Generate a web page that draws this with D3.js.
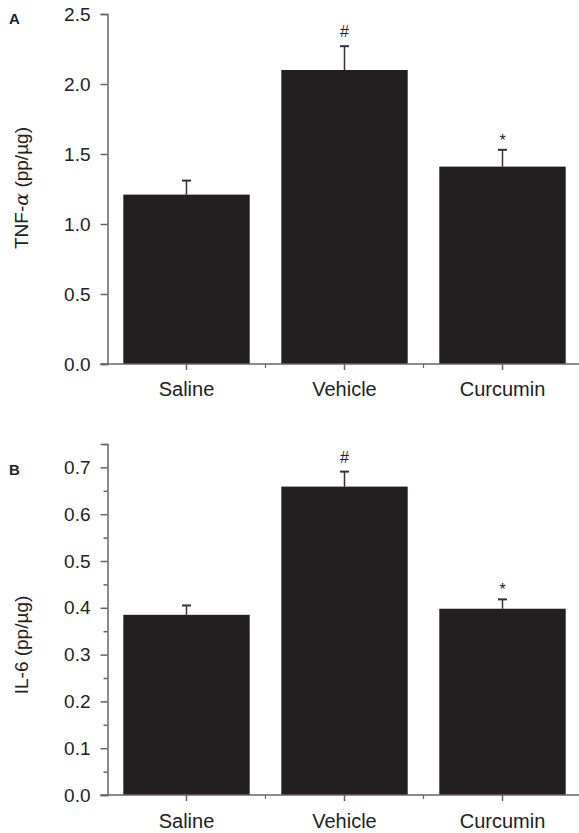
<!DOCTYPE html>
<html>
<head>
<meta charset="utf-8">
<script src="https://cdn.jsdelivr.net/npm/d3@7"></script>
<style>
  body { margin: 0; background: #fff; }
  svg text { font-family: "Liberation Sans", Arial, sans-serif; fill: #222; }
</style>
</head>
<body>
<div id="chart"></div>
<script>
// Data
const groups = ["Saline", "Vehicle", "Curcumin"];
const tnfMean = [1.21, 2.10, 1.41];
const tnfErr = [0.10, 0.17, 0.12];
const il6Mean = [0.385, 0.659, 0.398];
const il6Err = [0.020, 0.032, 0.020];
const sigMarks = ["", "#", "*"];
const tnfTicks = [0, 0.5, 1.0, 1.5, 2.0, 2.5];
const il6Ticks = [0, 0.1, 0.2, 0.3, 0.4, 0.5, 0.6, 0.7];
const il6MinorTicks = [0.05, 0.15, 0.25, 0.35, 0.45, 0.55, 0.65, 0.75];

const W = 579, H = 833;
const barColor = "#231f20";
const axisColor = "#666";

const svg = d3.select("#chart").append("svg")
  .attr("width", W)
  .attr("height", H);

const xscale = d3.scaleBand()
  .domain(groups)
  .range([107.5, 581.5])
  .paddingInner(0.2)
  .paddingOuter(0.1);

// draws one panel
function drawPanel(opts) {
  const yscale = d3.scaleLinear().domain([0, opts.yMax]).range([opts.y0, opts.yTop]);
  const g = svg.append("g");

  // bars
  g.selectAll("rect.bar").data(opts.means).enter().append("rect")
    .attr("class", "bar")
    .attr("x", (d, i) => xscale(groups[i]))
    .attr("y", d => yscale(d))
    .attr("width", xscale.bandwidth())
    .attr("height", d => yscale(0) - yscale(d))
    .attr("fill", barColor);

  // error bars (upper only)
  const cx = i => xscale(groups[i]) + xscale.bandwidth() / 2;
  g.selectAll("line.err").data(opts.means).enter().append("line")
    .attr("x1", (d, i) => cx(i)).attr("x2", (d, i) => cx(i))
    .attr("y1", d => yscale(d))
    .attr("y2", (d, i) => yscale(d + opts.errs[i]))
    .attr("stroke", "#333").attr("stroke-width", 1.5);
  g.selectAll("line.cap").data(opts.means).enter().append("line")
    .attr("x1", (d, i) => cx(i) - 4.5).attr("x2", (d, i) => cx(i) + 4.5)
    .attr("y1", (d, i) => yscale(d + opts.errs[i]))
    .attr("y2", (d, i) => yscale(d + opts.errs[i]))
    .attr("stroke", "#333").attr("stroke-width", 2);

  // significance marks
  g.selectAll("text.sig").data(opts.means).enter().append("text")
    .attr("x", (d, i) => cx(i))
    .attr("y", (d, i) => yscale(d + opts.errs[i]) - (sigMarks[i] == "*" ? 4 : 9))
    .attr("text-anchor", "middle")
    .style("font-size", "16px")
    .text((d, i) => sigMarks[i]);

  // y axis
  g.append("g")
    .attr("transform", "translate(" + xscale.range()[0] + ",0)")
    .call(d3.axisLeft(yscale).tickValues(opts.ticks).tickFormat(d3.format(".1f")).tickSize(7).tickPadding(10));
  if (opts.minor) {
    g.append("g")
      .attr("transform", "translate(" + xscale.range()[0] + ",0)")
      .call(d3.axisLeft(yscale).tickValues(opts.minor).tickFormat("").tickSize(4))
      .call(a => a.select(".domain").remove());
  }

  // x axis: major ticks at centres, minor at band boundaries
  const xaxisG = g.append("g").attr("transform", "translate(0," + opts.y0 + ")");
  xaxisG.append("line")
    .attr("x1", xscale.range()[0] - 7).attr("x2", xscale.range()[1])
    .attr("y1", 0).attr("y2", 0)
    .attr("stroke", axisColor).attr("stroke-width", 1.5);
  xaxisG.selectAll("line.major").data(groups).enter().append("line")
    .attr("x1", d => xscale(d) + xscale.bandwidth() / 2)
    .attr("x2", d => xscale(d) + xscale.bandwidth() / 2)
    .attr("y1", 0).attr("y2", 6)
    .attr("stroke", axisColor).attr("stroke-width", 1.5);
  xaxisG.selectAll("line.minor").data(groups.slice(1)).enter().append("line")
    .attr("x1", d => xscale(d) - xscale.step() * xscale.paddingInner() / 2)
    .attr("x2", d => xscale(d) - xscale.step() * xscale.paddingInner() / 2)
    .attr("y1", 0).attr("y2", 4)
    .attr("stroke", axisColor).attr("stroke-width", 1.2);
  xaxisG.selectAll("text").data(groups).enter().append("text")
    .attr("x", d => xscale(d) + xscale.bandwidth() / 2)
    .attr("y", opts.labelDy)
    .attr("text-anchor", "middle")
    .style("font-size", "20px")
    .text(d => d);

  g.selectAll(".tick text").style("font-size", "19px").attr("fill", "#222");
  g.selectAll(".tick line").attr("stroke", axisColor).attr("stroke-width", 1.5);
  g.selectAll(".domain").attr("stroke", axisColor).attr("stroke-width", 1.5);

  // axis title
  const title = g.append("text")
    .attr("transform", "translate(" + 28 + "," + opts.titleY + ") rotate(-90)")
    .attr("text-anchor", "middle")
    .style("font-size", "19px");
  opts.title(title);

  // panel letter
  g.append("text")
    .attr("x", 9).attr("y", opts.letterY)
    .style("font-size", "15px").style("font-weight", "bold")
    .text(opts.letter);
}

drawPanel({
  means: tnfMean, errs: tnfErr, yMax: 2.5, y0: 364, yTop: 14,
  ticks: tnfTicks, minor: null, titleY: 188, letterY: 24, letter: "A", labelDy: 32,
  title: t => {
    t.append("tspan").text("TNF-");
    t.append("tspan").style("font-family", "'DejaVu Serif', serif").style("font-style", "italic").text("α");
    t.append("tspan").text(" (pp/µg)");
  }
});

drawPanel({
  means: il6Mean, errs: il6Err, yMax: 0.75, y0: 795, yTop: 444,
  ticks: il6Ticks, minor: il6MinorTicks, titleY: 645, letterY: 475, letter: "B", labelDy: 33,
  title: t => t.text("IL-6 (pp/µg)")
});
</script>
</body>
</html>
